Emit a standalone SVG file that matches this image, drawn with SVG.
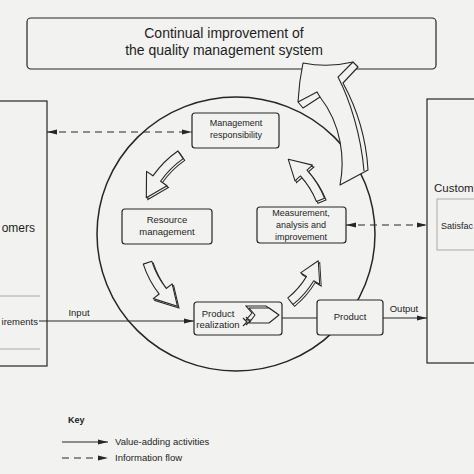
<svg xmlns="http://www.w3.org/2000/svg" xmlns:xlink="http://www.w3.org/1999/xlink" width="474" height="474" viewBox="0 0 474 474">
<style>
.bg{fill:#f2f2f0}
.box{fill:#f2f2f0;stroke:#262626;stroke-width:1.2}
.ln{fill:none;stroke:#262626;stroke-width:1.1}
.dash{fill:none;stroke:#262626;stroke-width:1.1;stroke-dasharray:7 5}
.faint{fill:none;stroke:#9a9a9a;stroke-width:0.8}
.band{fill:#f2f2f0;stroke:#262626;stroke-width:1.1;stroke-linejoin:round}
.sh{fill:#f2f2f0;stroke:#262626;stroke-width:1}
text{font-family:"Liberation Sans",Arial,sans-serif;fill:#1e1e1e}
.t9{font-size:9px;text-anchor:middle}
.t10{font-size:9.5px;text-anchor:middle}
</style>
<defs>
<marker id="ah" markerUnits="userSpaceOnUse" markerWidth="10" markerHeight="6" refX="10" refY="3" orient="auto-start-reverse">
<path d="M0,0.6 L10,3 L0,5.4 Z" fill="#262626"/>
</marker>
<path id="sa" d="M97.5,0 A97.5,97.5 0 0 0 91.62,-33.35 L98.67,-35.91 L78,-50.65 L76.12,-27.7 L83.16,-30.27 A88.5,88.5 0 0 1 88.5,0 Z"/>
</defs>
<rect class="bg" x="0" y="0" width="474" height="474"/>

<ellipse id="cycle" cx="236" cy="234" rx="139" ry="137" fill="none" stroke="#262626" stroke-width="1.5"/>

<g id="title">
<rect class="box" x="27" y="18" width="409" height="51" rx="4"/>
<text x="224" y="38" font-size="14" text-anchor="middle">Continual improvement of</text>
<text x="224" y="55" font-size="14" text-anchor="middle">the quality management system</text>
</g>

<g id="big-arrow">
<path class="band" d="M303,63 Q328,68 353,62 L358,67 L343,83 C355,105 366,135 368,170 L340,185 C345,160 342,125 320,97 L303,108 L298,102 Q299,82 303,63 Z"/>
<path class="ln" d="M353,62 L338,77 C350,100 361,135 364,171"/>
<path class="ln" d="M298,102 L317,92 L320,97"/>
</g>

<g id="customers-left">
<rect class="box" x="-5" y="101" width="52" height="265"/>
<text x="35" y="232" font-size="12" text-anchor="end">omers</text>
<line class="faint" x1="0" y1="296" x2="40" y2="296"/>
<line class="faint" x1="0" y1="349" x2="40" y2="349"/>
<text x="38" y="325" font-size="9.5" text-anchor="end">irements</text>
</g>

<g id="customers-right">
<rect class="box" x="427" y="99" width="60" height="264"/>
<text x="434" y="192" font-size="11.5">Custom</text>
<rect class="faint" x="437" y="199" width="50" height="51"/>
<text x="441" y="229" font-size="9">Satisfac</text>
</g>

<g id="cycle-arrows">
<g transform="translate(1.5,1.8)">
<use xlink:href="#sa" class="sh" transform="translate(236,234) rotate(235) scale(1.04)"/>
<use xlink:href="#sa" class="sh" transform="translate(236,234) rotate(162)"/>
<use xlink:href="#sa" class="sh" transform="translate(236,234) rotate(51) scale(0.93)"/>
<use xlink:href="#sa" class="sh" transform="translate(236,234) rotate(-22) scale(0.98)"/>
</g>
<use xlink:href="#sa" class="band" transform="translate(236,234) rotate(235) scale(1.04)"/>
<use xlink:href="#sa" class="band" transform="translate(236,234) rotate(162)"/>
<use xlink:href="#sa" class="band" transform="translate(236,234) rotate(51) scale(0.93)"/>
<use xlink:href="#sa" class="band" transform="translate(236,234) rotate(-22) scale(0.98)"/>
</g>

<g id="connectors">
<line class="dash" x1="47" y1="132" x2="192" y2="132" marker-start="url(#ah)" marker-end="url(#ah)"/>
<line class="dash" x1="346" y1="225" x2="427" y2="225" marker-start="url(#ah)" marker-end="url(#ah)"/>
<line class="ln" x1="39" y1="321" x2="194" y2="321" marker-end="url(#ah)"/>
<text x="79" y="316" font-size="9.5" text-anchor="middle">Input</text>
<line class="ln" x1="282" y1="318" x2="317" y2="318"/>
<line class="ln" x1="383" y1="318" x2="427" y2="318" marker-end="url(#ah)"/>
<text x="404" y="312" font-size="9.5" text-anchor="middle">Output</text>
</g>

<g id="management">
<rect class="box" x="192" y="113" width="87" height="35" rx="3"/>
<text class="t9" x="236" y="126">Management</text>
<text class="t9" x="236" y="138">responsibility</text>
</g>

<g id="resource">
<rect class="box" x="122" y="209" width="90" height="35" rx="3"/>
<text class="t10" x="167" y="223">Resource</text>
<text class="t10" x="167" y="235">management</text>
</g>

<g id="measurement">
<rect class="box" x="257" y="207" width="89" height="36" rx="3"/>
<text class="t9" x="301" y="216">Measurement,</text>
<text class="t9" x="301" y="228">analysis and</text>
<text class="t9" x="301" y="240">improvement</text>
</g>

<g id="realization">
<rect class="box" x="194" y="302" width="88" height="33" rx="3"/>
<text class="t10" x="218" y="317">Product</text>
<text class="t10" x="218" y="328">realization</text>
<path class="ln" d="M246,306 L266,306 L276,313 L266,320 L246,320 L252,313 Z"/>
<path class="band" d="M249,308 L269,308 L279,315 L269,323 L249,323 L255,315 Z"/>
<path class="ln" d="M243,318 L247,322 L243,326 M246,317 L250,321 L246,325"/>
</g>

<g id="product">
<rect class="box" x="317" y="300" width="66" height="35" rx="3"/>
<text class="t10" x="350" y="320">Product</text>
</g>

<g id="key">
<text x="68" y="423" font-size="9" font-weight="bold">Key</text>
<line class="ln" x1="62" y1="442" x2="108" y2="442" marker-end="url(#ah)"/>
<text x="115" y="445" font-size="9.5">Value-adding activities</text>
<line class="dash" x1="62" y1="458" x2="108" y2="458" stroke-dasharray="6 4" marker-end="url(#ah)"/>
<text x="115" y="461" font-size="9.5">Information flow</text>
</g>
</svg>
